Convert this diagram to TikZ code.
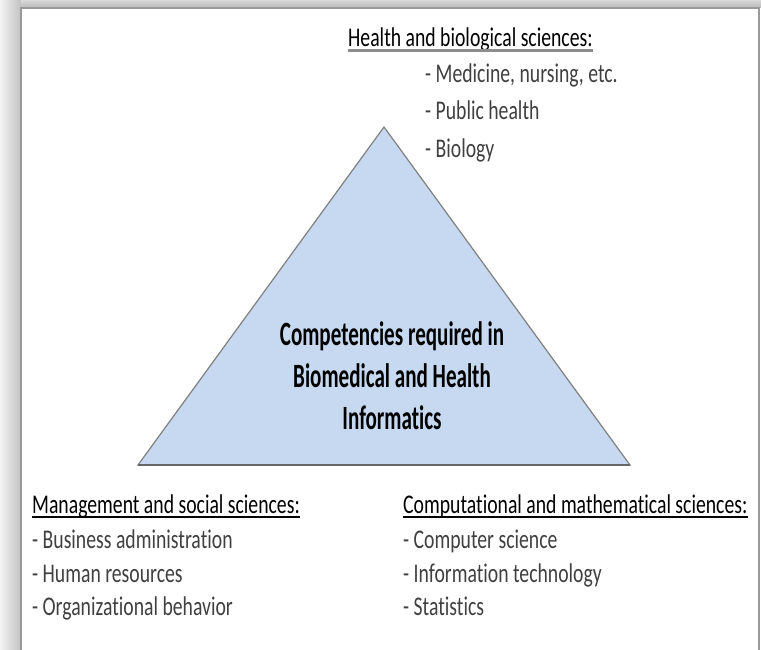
\documentclass[tikz,border=0pt]{standalone}
\usepackage{fontspec}
\setmainfont{Carlito}[FakeStretch=0.73,Ligatures=NoCommon]
\newfontfamily\corefont{Carlito}[FakeStretch=0.62,Ligatures=NoCommon]
\usetikzlibrary{calc}
\definecolor{triblue}{HTML}{C6D9F0}
\begin{document}
\begin{tikzpicture}[x=1pt,y=-1pt,
  item/.style={anchor=base west, inner sep=0pt, font=\fontsize{27}{37}\selectfont, text=black!75},
  head/.style={anchor=base west, inner sep=0pt, font=\fontsize{27}{37}\selectfont, text=black},
  core/.style={align=center, inner sep=0pt, font=\corefont\bfseries\fontsize{34}{42}\selectfont, text=black},
  uline/.style={line width=1.5pt, black}]
\useasboundingbox (0,0) rectangle (761,650);
% frame with shadow
\shade[left color=black!5, right color=black!24] (0,0) rectangle (21,650);
\shade[top color=black!15, bottom color=black!27] (21,0) rectangle (761,8);
\fill[white] (21,8) rectangle (761,650);
\draw[black!40, line width=1.5pt] (21,650) -- (21,8) -- (759,8) -- (759,650);
% triangle
\coordinate (apex) at (384,127);
\coordinate (bl) at (138,465);
\coordinate (br) at (630,465);
\filldraw[fill=triblue, draw=black!50, line width=1.2pt] (apex) -- (br) -- (bl) -- cycle;
\draw[black!60, line width=2.5pt] (bl) -- (br);
\node[core] (core) at (392,376) {Competencies required in\\Biomedical and Health\\Informatics};
% top list
\node[head] (hh) at (348,47) {Health and biological sciences:};
\draw[black!45, line width=3pt] ($(hh.base west)+(0,4)$) -- ($(hh.base east)+(0,4)$);
\node[item] (h1) at (425,83) {- Medicine, nursing, etc.};
\node[item] (h2) at (425,120) {- Public health};
\node[item] (h3) at (425,158) {- Biology};
% bottom left list
\node[head] (mh) at (32,513) {Management and social sciences:};
\draw[uline] ($(mh.base west)+(0,4)$) -- ($(mh.base east)+(0,4)$);
\node[item] (m1) at (32,548) {- Business administration};
\node[item] (m2) at (32,582) {- Human resources};
\node[item] (m3) at (32,615) {- Organizational behavior};
% bottom right list
\node[head] (ch) at (403,513) {Computational and mathematical sciences:};
\draw[uline] ($(ch.base west)+(0,4)$) -- ($(ch.base east)+(0,4)$);
\node[item] (c1) at (403,548) {- Computer science};
\node[item] (c2) at (403,582) {- Information technology};
\node[item] (c3) at (403,615) {- Statistics};
\end{tikzpicture}
\end{document}
